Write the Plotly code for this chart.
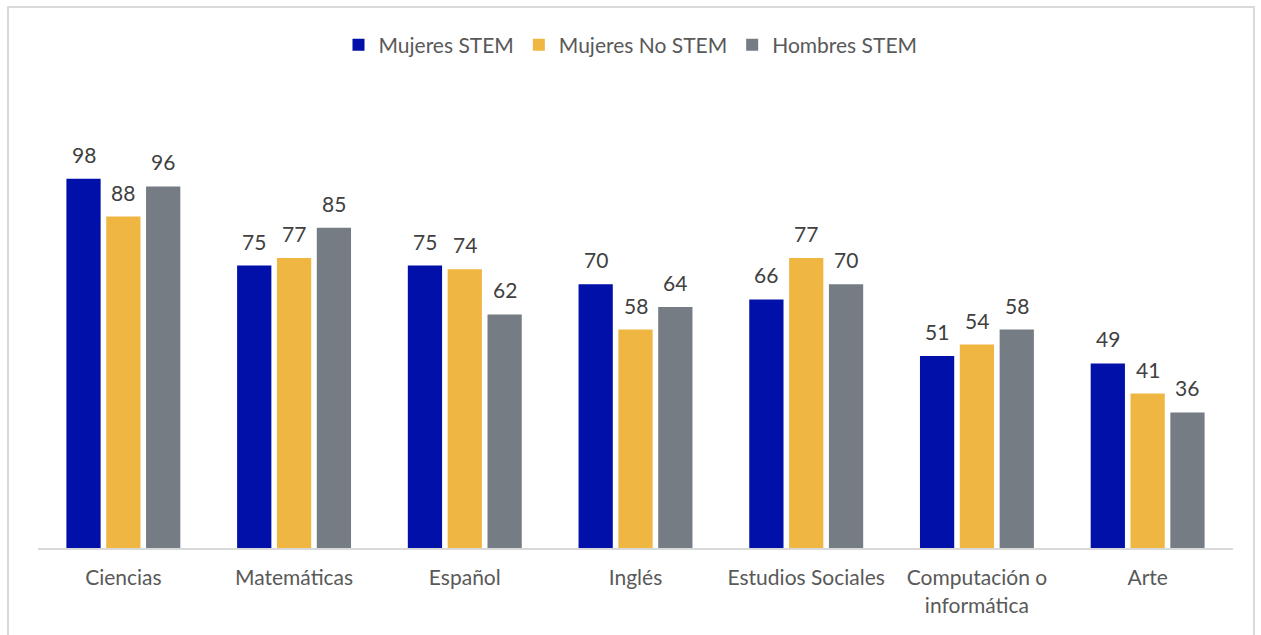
import plotly.graph_objects as go

categories = ["Ciencias", "Matemáticas", "Español", "Inglés", "Estudios Sociales",
              "Computación o<br>informática", "Arte"]
mujeres_stem = [98, 75, 75, 70, 66, 51, 49]
mujeres_no_stem = [88, 77, 74, 58, 77, 54, 41]
hombres_stem = [96, 85, 62, 64, 70, 58, 36]

series = [
    ("Mujeres STEM", mujeres_stem, "#0010A8"),
    ("Mujeres No STEM", mujeres_no_stem, "#EFB642"),
    ("Hombres STEM", hombres_stem, "#757C84"),
]

FONT = "Lato, Open Sans, sans-serif"
L, T, W, H = 38, 96, 1195, 452
BARGAP = 0.3

fig = go.Figure()
for name, vals, color in series:
    fig.add_trace(go.Bar(
        x=categories, y=vals, name=name, marker_color=color,
        marker_line_width=0,
    ))

# value labels positioned via data coordinates, shifted to each bar's slot
slot_px = W / len(categories) * (1 - BARGAP) / len(series)
annotations = []
for si, (name, vals, color) in enumerate(series):
    for cat, v in zip(categories, vals):
        annotations.append(dict(
            x=cat, y=v, xref="x", yref="y", text=str(v), showarrow=False,
            xshift=(si - 1) * slot_px, yshift=10, yanchor="bottom",
            font=dict(size=21, color="#404040", family=FONT),
        ))

fig.update_layout(
    width=1261, height=635,
    margin=dict(l=L, r=1261 - L - W, t=T, b=635 - T - H, autoexpand=False),
    paper_bgcolor="white", plot_bgcolor="white",
    font=dict(family=FONT, size=21, color="#595959"),
    barmode="group", bargap=BARGAP, bargroupgap=0.14,
    showlegend=True,
    legend=dict(orientation="h", x=0.5, xanchor="center", xref="container",
                y=1 - 45 / 635, yanchor="middle", yref="container",
                font=dict(size=21, color="#595959", family=FONT),
                traceorder="normal", itemwidth=30),
    xaxis=dict(showline=True, linecolor="#D9D9D9", linewidth=2, ticks="",
               ticklabelstandoff=10,
               tickfont=dict(size=21, color="#595959", family=FONT)),
    yaxis=dict(range=[0, 120], visible=False, showgrid=False),
    annotations=annotations,
    shapes=[dict(type="rect", xref="paper", yref="paper",
                 x0=(8 - L) / W, x1=(1254 - L) / W,
                 y0=(548 - 645) / H, y1=(548 - 7) / H,
                 line=dict(color="#D9D9D9", width=2), fillcolor="rgba(0,0,0,0)",
                 layer="below")],
)

fig.write_html("out.html")
